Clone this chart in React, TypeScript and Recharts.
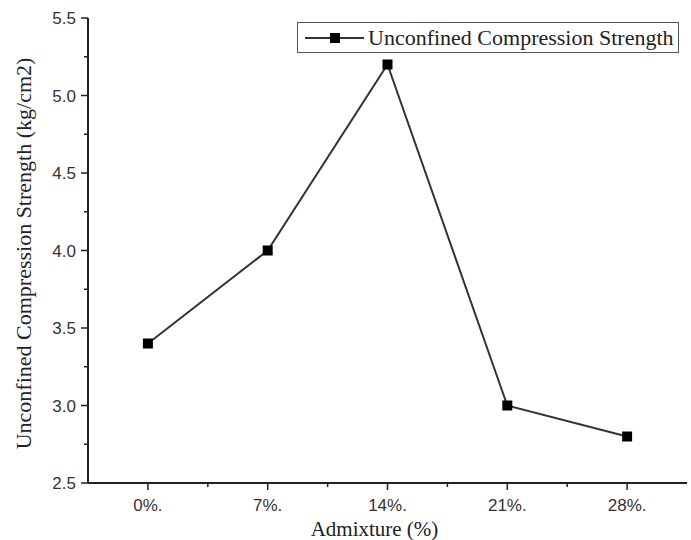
import { LineChart, Line, XAxis, YAxis, Legend, Label } from 'recharts'

const categories = ['0%.', '7%.', '14%.', '21%.', '28%.']
const strength = [3.4, 4.0, 5.2, 3.0, 2.8]
const yTicks = [2.5, 2.75, 3.0, 3.25, 3.5, 3.75, 4.0, 4.25, 4.5, 4.75, 5.0, 5.25, 5.5]
const xTicks = [-0.5, 0, 0.5, 1, 1.5, 2, 2.5, 3, 3.5, 4, 4.5]

const data = categories.map((c, i) => ({ idx: i, label: c, ucs: strength[i] }))

const axisColor = '#222'
const tickText = '#333'
const sans = 'Liberation Sans, Arial, sans-serif'
const serif = 'Liberation Serif, Times New Roman, serif'

const YTick = ({ x, y, payload }: any) => {
  const v = payload.value
  const major = Math.abs(v * 2 - Math.round(v * 2)) < 1e-6
  return (
    <g>
      <line x1={x} x2={x - (major ? 7 : 4)} y1={y} y2={y} stroke={axisColor} strokeWidth={1.5} />
      {major && (
        <text x={x - 12} y={y} dy={6} textAnchor="end" fill={tickText}
          style={{ fontFamily: sans, fontSize: 17 }}>
          {v.toFixed(1)}
        </text>
      )}
    </g>
  )
}

const XTick = ({ x, y, payload }: any) => {
  const v = payload.value
  const major = Number.isInteger(v)
  if (v === -0.5 || v === 4.5) return <g />
  return (
    <g>
      <line x1={x} x2={x} y1={y} y2={y + (major ? 7 : 4)} stroke={axisColor} strokeWidth={1.5} />
      {major && (
        <text x={x} y={y + 28} textAnchor="middle" fill={tickText}
          style={{ fontFamily: sans, fontSize: 17 }}>
          {categories[v]}
        </text>
      )}
    </g>
  )
}

const SquareDot = (props: any) => {
  const { cx, cy, index } = props
  return <rect key={'d' + index} x={cx - 5} y={cy - 5} width={10} height={10} fill="#000" />
}

const LegendBox = () => (
  <div style={{
    width: 382, height: 31, border: '1px solid #555', background: '#fff',
    display: 'flex', alignItems: 'center', boxSizing: 'border-box'
  }}>
    <svg width={70} height={20}>
      <line x1={7} x2={66} y1={10} y2={10} stroke="#333" strokeWidth={2} />
      <rect x={32} y={5} width={10} height={10} fill="#000" />
    </svg>
    <span style={{ fontFamily: serif, fontSize: 22, color: '#222', lineHeight: '22px' }}>
      Unconfined Compression Strength
    </span>
  </div>
)

export default function App() {
  return (
    <div style={{ position: 'absolute', left: 0, top: 0, width: 691, height: 540, background: '#fff' }}>
      <LineChart width={691} height={540} data={data} margin={{ top: 18, right: 4, left: 0, bottom: 0 }}>
        <XAxis
          dataKey="idx"
          type="number"
          domain={[-0.5, 4.5]}
          ticks={xTicks}
          interval={0}
          height={57}
          tickSize={0}
          tickMargin={0}
          tickLine={false}
          tick={<XTick />}
          axisLine={{ stroke: axisColor, strokeWidth: 2 }}
        >
          <Label
            content={({ viewBox }: any) => (
              <text x={viewBox.x + viewBox.width / 2 - 13} y={viewBox.y + 53} textAnchor="middle" fill="#222"
                style={{ fontFamily: serif, fontSize: 21 }}>
                Admixture (%)
              </text>
            )}
          />
        </XAxis>
        <XAxis xAxisId="top" orientation="top" dataKey="idx" type="number" domain={[-0.5, 4.5]}
          height={0} tick={false} tickLine={false} axisLine={{ stroke: axisColor, strokeWidth: 2 }} />
        <YAxis
          type="number"
          domain={[2.5, 5.5]}
          ticks={yTicks}
          interval={0}
          width={88}
          tickSize={0}
          tickMargin={0}
          tickLine={false}
          tick={<YTick />}
          axisLine={{ stroke: axisColor, strokeWidth: 2 }}
        >
          <Label
            content={({ viewBox }: any) => {
              const cx = 24
              const cy = viewBox.y + viewBox.height / 2 + 3
              return (
                <text x={cx} y={cy} transform={`rotate(-90 ${cx} ${cy})`} textAnchor="middle" dy={7} fill="#222"
                  style={{ fontFamily: serif, fontSize: 22 }}>
                  Unconfined Compression Strength (kg/cm2)
                </text>
              )
            }}
          />
        </YAxis>
        <YAxis yAxisId="right" orientation="right" type="number" domain={[2.5, 5.5]}
          width={0} tick={false} tickLine={false} axisLine={{ stroke: axisColor, strokeWidth: 2 }} />
        <Legend
          layout="horizontal"
          verticalAlign="middle"
          align="center"
          wrapperStyle={{ position: 'absolute', top: 22, left: 297, width: 382 }}
          content={<LegendBox />}
        />
        <Line
          type="linear"
          dataKey="ucs"
          name="Unconfined Compression Strength"
          stroke="#333"
          strokeWidth={2}
          dot={<SquareDot />}
          activeDot={false}
          isAnimationActive={false}
        />
      </LineChart>
    </div>
  )
}
